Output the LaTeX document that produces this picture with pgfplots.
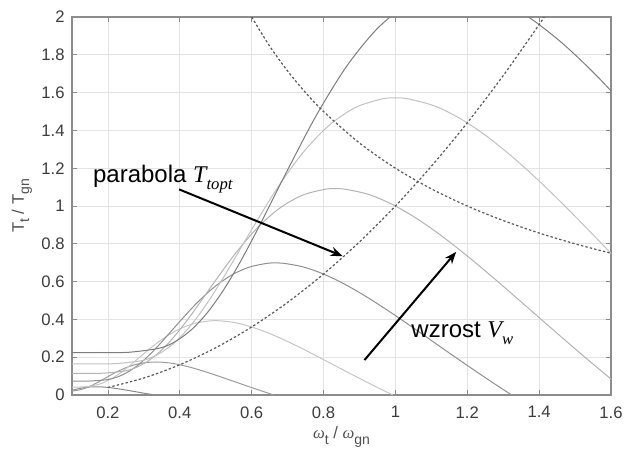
\documentclass[border=0pt]{standalone}
\usepackage{pgfplots}
\pgfplotsset{compat=1.18}
\usepackage{fontspec}
\setmainfont{Liberation Sans}
\newfontfamily\timesfont{Liberation Serif}
\usetikzlibrary{arrows.meta}
\definecolor{cA}{HTML}{8A8A8A}
\definecolor{cB}{HTML}{9C9C9C}
\definecolor{cC}{HTML}{C6C6C6}
\definecolor{cD}{HTML}{909090}
\definecolor{cE}{HTML}{B3B3B3}
\definecolor{cF}{HTML}{C2C2C2}
\definecolor{cG}{HTML}{7D7D7D}
\definecolor{dotc}{HTML}{5A5A5A}
\definecolor{gridc}{HTML}{E4E4E4}
\definecolor{axisc}{HTML}{8C8C8C}
\definecolor{tickc}{HTML}{3C3C3C}
\definecolor{labc}{HTML}{505050}
\newcommand{\sub}[1]{\raisebox{-0.32em}{\fontsize{10.5}{10.5}\selectfont #1}}
\begin{document}
\begin{tikzpicture}
\begin{axis}[
  scale only axis, width=404.25pt, height=283.5pt,
  xmin=0.1, xmax=1.6, ymin=0, ymax=2,
  xtick={0.2,0.4,0.6,0.8,1,1.2,1.4,1.6},
  xticklabels={0.2,0.4,0.6,0.8,1,1.2,1.4,1.6},
  ytick={0,0.2,0.4,0.6,0.8,1,1.2,1.4,1.6,1.8,2},
  yticklabels={0,0.2,0.4,0.6,0.8,1,1.2,1.4,1.6,1.8,2},
  /pgf/number format/assume math mode=true,
  grid=major, major grid style={draw=gridc, line width=0.5pt},
  axis line style={draw=axisc, line width=0.9pt},
  tick style={draw=axisc, line width=0.6pt},
  tick align=inside, major tick length=4pt,
  ticklabel style={font=\fontsize{12.5}{12.5}\selectfont, text=tickc},
  xticklabel style={yshift=-5pt},
  yticklabel style={xshift=-2pt},
  xlabel={{\timesfont\itshape ω}\sub{t} / {\timesfont\itshape ω}\sub{gn}},
  ylabel={T\sub{t} / T\sub{gn}},
  xlabel style={at={(axis description cs:0.5,-0.111)}, anchor=center, font=\fontsize{12.5}{12.5}\selectfont, text=labc},
  ylabel style={at={(axis description cs:-0.093,0.5)}, anchor=center, font=\fontsize{12.5}{12.5}\selectfont, text=labc},
  clip=true,
]
% v = 0.2
\addplot[cA, line width=0.75pt, smooth] coordinates {
(0.1,0.0243) (0.1111,0.03005) (0.1235,0.03549) (0.1358,0.03960) (0.1481,0.04226)
(0.1605,0.04352) (0.1667,0.04367) (0.1728,0.04351) (0.1852,0.04244) (0.1975,0.04048)
(0.2099,0.03783) (0.2222,0.03465) (0.2346,0.03108) (0.2469,0.02725) (0.2593,0.02326)
(0.2716,0.01917) (0.2840,0.01507) (0.2963,0.01099) (0.3086,0.00698) (0.3210,0.00306) (0.3309,0)};
% v = 0.4
\addplot[cB, line width=0.75pt, smooth] coordinates {
(0.1,0.0206) (0.1235,0.02815) (0.1481,0.04459) (0.1728,0.06807) (0.1975,0.09460)
(0.2222,0.12018) (0.2469,0.14196) (0.2716,0.15841) (0.2963,0.16905) (0.3210,0.17408)
(0.3333,0.17467) (0.3457,0.17403) (0.3704,0.16976) (0.3951,0.16193) (0.4198,0.15132)
(0.4444,0.13860) (0.4691,0.12433) (0.4938,0.10901) (0.5185,0.09303) (0.5432,0.07669)
(0.5679,0.06028) (0.5926,0.04396) (0.6173,0.02792) (0.6420,0.01226) (0.6617,0)};
% v = 0.6
\addplot[cC, line width=0.75pt, smooth] coordinates {
(0.1,0.0414) (0.1111,0.04156) (0.1481,0.04573) (0.1852,0.06333) (0.2222,0.10032)
(0.2593,0.15315) (0.2963,0.21286) (0.3333,0.27041) (0.3704,0.31941) (0.4074,0.35643)
(0.4444,0.38037) (0.4815,0.39168) (0.5,0.39301) (0.5185,0.39157) (0.5556,0.38196)
(0.5926,0.36433) (0.6296,0.34047) (0.6667,0.31185) (0.7037,0.27975) (0.7407,0.24528)
(0.7778,0.20931) (0.8148,0.17256) (0.8519,0.13562) (0.8889,0.09892) (0.9259,0.06282)
(0.9630,0.02758) (0.9926,0)};
% v = 0.8
\addplot[cD, line width=0.75pt, smooth] coordinates {
(0.1,0.07344) (0.1481,0.07388) (0.1975,0.08129) (0.2222,0.09292) (0.2469,0.11260)
(0.2716,0.14120) (0.2963,0.17836) (0.3210,0.22270) (0.3457,0.27228) (0.3951,0.37841)
(0.4444,0.48072) (0.4938,0.56783) (0.5432,0.63365) (0.5926,0.67621) (0.6420,0.69632)
(0.6667,0.69869) (0.6914,0.69613) (0.7407,0.67903) (0.7901,0.64771) (0.8395,0.60528)
(0.8889,0.55440) (0.9383,0.49734) (0.9877,0.43605) (1.0370,0.37211) (1.0864,0.30678)
(1.1358,0.24110) (1.1852,0.17586) (1.2346,0.11169) (1.2840,0.04903) (1.3235,0)};
% v = 1.0
\addplot[cE, line width=0.75pt, smooth] coordinates {
(0.1,0.11475) (0.1235,0.11475) (0.1852,0.11544) (0.2469,0.12702) (0.2778,0.14518)
(0.3086,0.17593) (0.3395,0.22063) (0.3704,0.27868) (0.4012,0.34797) (0.4321,0.42543)
(0.4630,0.50765) (0.4938,0.59127) (0.5556,0.75113) (0.6173,0.88724) (0.6790,0.99008)
(0.7407,1.05658) (0.8025,1.08800) (0.8333,1.09170) (0.8642,1.08770) (0.9259,1.06099)
(0.9877,1.01204) (1.0494,0.94575) (1.1111,0.86625) (1.1728,0.77709) (1.2346,0.68133)
(1.2963,0.58142) (1.3580,0.47934) (1.4198,0.37672) (1.4815,0.27478) (1.5432,0.17451)
(1.6049,0.07661)};
% v = 1.2
\addplot[cF, line width=0.75pt, smooth] coordinates {
(0.1,0.16524) (0.1481,0.16524) (0.2222,0.16623) (0.2963,0.18291) (0.3333,0.20906)
(0.3704,0.25334) (0.4074,0.31771) (0.4444,0.40130) (0.4815,0.50108) (0.5185,0.61262)
(0.5556,0.73102) (0.5926,0.85143) (0.6667,1.08163) (0.7407,1.27763) (0.8148,1.42572)
(0.8889,1.52148) (0.9630,1.56672) (1.0,1.57205) (1.0370,1.56629) (1.1111,1.52783)
(1.1852,1.45734) (1.2593,1.36188) (1.3333,1.24740) (1.4074,1.11901) (1.4815,0.98112)
(1.5556,0.83724) (1.6296,0.69025)};
% v = 1.4
\addplot[cG, line width=0.75pt, smooth] coordinates {
(0.1,0.22491) (0.1728,0.22491) (0.2593,0.22626) (0.3457,0.24896) (0.3889,0.28455)
(0.4321,0.34482) (0.4753,0.43243) (0.5185,0.54621) (0.5617,0.68202) (0.6049,0.83384)
(0.6481,0.99499) (0.6914,1.15889) (0.7778,1.47221) (0.8642,1.73899) (0.9506,1.94056)
(1.0370,2.07090) (1.1235,2.13248) (1.1667,2.13973) (1.2099,2.13189) (1.2963,2.07954)
(1.3827,1.98360) (1.4691,1.85367) (1.5556,1.69785) (1.6420,1.52310)};
% parabola T_topt
\addplot[dotc, line width=0.9pt, dash pattern=on 1.8pt off 1.6pt, smooth] coordinates {
(0.2,0.04) (0.3,0.09) (0.4,0.16) (0.5,0.25) (0.6,0.36) (0.7,0.49) (0.8,0.64)
(0.9,0.81) (1.0,1.0) (1.1,1.21) (1.2,1.44) (1.3,1.69) (1.4,1.96) (1.45,2.1025)};
% hyperbola
\addplot[dotc, line width=0.9pt, dash pattern=on 1.8pt off 1.6pt, smooth] coordinates {
(0.6,2) (0.65,1.8462) (0.7,1.7143) (0.75,1.6) (0.8,1.5) (0.9,1.3333) (1.0,1.2)
(1.1,1.0909) (1.2,1.0) (1.3,0.9231) (1.4,0.8571) (1.5,0.8) (1.6,0.75)};
% annotations
\draw[black, line width=1.5pt, -{Stealth[length=9pt,width=7pt]}] (axis cs:0.398,1.088) -- (axis cs:0.853,0.735);
\draw[black, line width=1.5pt, -{Stealth[length=9pt,width=7pt]}] (axis cs:0.914,0.185) -- (axis cs:1.169,0.757);
\node[anchor=base west, inner sep=0pt, font=\fontsize{18}{18}\selectfont] at (axis cs:0.158,1.122)
  {parabola {\timesfont\itshape T\raisebox{-0.28em}{\fontsize{12.5}{12.5}\selectfont topt}}};
\node[anchor=base west, inner sep=0pt, font=\fontsize{18}{18}\selectfont] at (axis cs:1.044,0.305)
  {wzrost {\timesfont\itshape V\raisebox{-0.28em}{\fontsize{12.5}{12.5}\selectfont w}}};
\end{axis}
\pgfresetboundingbox
\path[use as bounding box] (-54pt,-42pt) rectangle (414pt,296.25pt);
\end{tikzpicture}
\end{document}
